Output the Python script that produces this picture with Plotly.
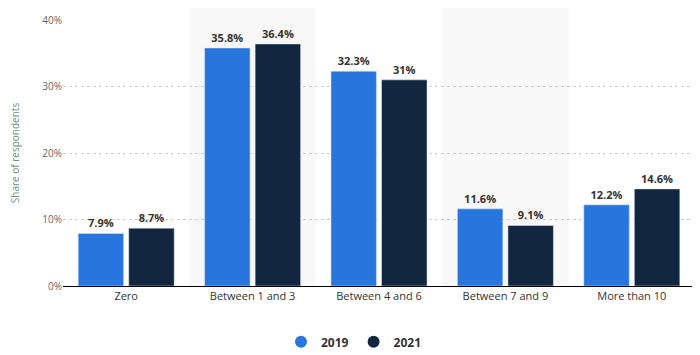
import plotly.graph_objects as go

categories = ["Zero", "Between 1 and 3", "Between 4 and 6", "Between 7 and 9", "More than 10"]
values_2019 = [7.9, 35.8, 32.3, 11.6, 12.2]
values_2021 = [8.7, 36.4, 31.0, 9.1, 14.6]
labels_2019 = ["7.9%", "35.8%", "32.3%", "11.6%", "12.2%"]
labels_2021 = ["8.7%", "36.4%", "31%", "9.1%", "14.6%"]
y_ticks = [0, 10, 20, 30, 40]
y_tick_labels = ["0%", "10%", "20%", "30%", "40%"]
series = [("2019", values_2019, labels_2019, "#2876dd"), ("2021", values_2021, labels_2021, "#12263f")]

fig = go.Figure()
for name, vals, labs, col in series:
    fig.add_trace(go.Bar(x=categories, y=vals, name=name, marker_color=col, showlegend=False,
                         text=["<b>%s</b>" % t for t in labs], textposition="outside", cliponaxis=False,
                         textfont=dict(family="Open Sans, sans-serif", size=11, color="#333333")))
for name, vals, labs, col in series:
    fig.add_trace(go.Scatter(x=[None], y=[None], mode="markers", name="<b>%s</b>" % name,
                             marker=dict(symbol="circle", size=12, color=col)))

shapes = []
for i, c in enumerate(categories):
    if i % 2 == 1:
        shapes.append(dict(type="rect", xref="x", yref="paper", x0=i - 0.5, x1=i + 0.5,
                           y0=0, y1=1.2, fillcolor="#f8f8f8", line_width=0, layer="below"))

fig.update_layout(
    width=692, height=347,
    margin=dict(l=55, r=5, t=12, b=69, autoexpand=False),
    paper_bgcolor="white", plot_bgcolor="white",
    barmode="group", bargap=0.2, bargroupgap=0.1,
    shapes=shapes,
    font=dict(family="Open Sans, sans-serif", size=11, color="#333333"),
    showlegend=True,
    legend=dict(orientation="h", xref="container", x=0.5, xanchor="center", y=-0.21, yanchor="middle",
                font=dict(size=12, color="#333333"), itemwidth=30),
)
fig.update_xaxes(showline=True, linecolor="#000000", linewidth=1, ticks="", automargin=False,
                 tickfont=dict(size=11, color="#333333"), showgrid=False)
fig.update_yaxes(range=[0, 40], tickvals=y_ticks, ticktext=y_tick_labels, showgrid=True,
                 gridcolor="#d0d0d0", griddash="dot", zeroline=False, automargin=False,
                 tickfont=dict(size=10, color="#666666"),
                 title=dict(text="Share of respondents", font=dict(size=10, color="#6b8f7b"), standoff=26))

fig.write_html("out.html")
